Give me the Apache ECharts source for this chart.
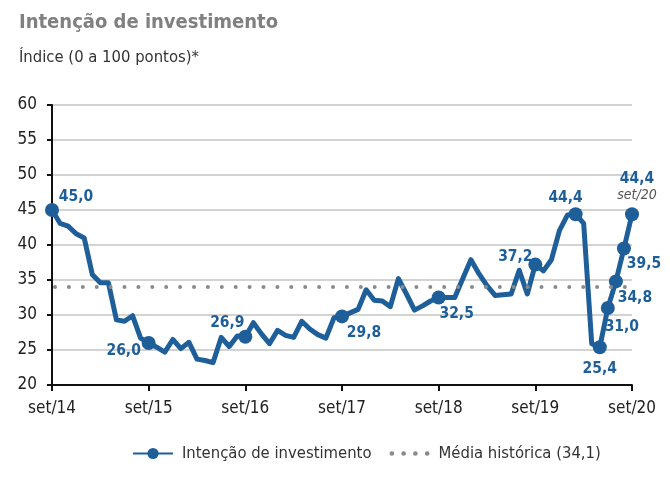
<!DOCTYPE html>
<html>
<head>
<meta charset="utf-8">
<script src="https://cdn.jsdelivr.net/npm/echarts@6/dist/echarts.min.js"></script>
<style>
html,body{margin:0;padding:0;background:#fff;}
#chart{width:670px;height:478px;}
</style>
</head>
<body>
<div id="chart"></div>
<script>
// ---- data ----
const monthNames = ['jan','fev','mar','abr','mai','jun','jul','ago','set','out','nov','dez'];
const startYear = 2014, startMonth = 8; // set/14
const nMonths = 73; // set/14 .. set/20
const categories = [];
for (let i = 0; i < nMonths; i++) {
  const m = (startMonth + i) % 12;
  const y = startYear + Math.floor((startMonth + i) / 12);
  categories.push(monthNames[m] + '/' + String(y).slice(2));
}
const investimento = [
  45.0, 43.1, 42.7, 41.6, 41.0, 35.8, 34.6, 34.6, 29.3, 29.1, 29.9, 26.7, 26.0,
  25.4, 24.7, 26.5, 25.2, 26.1, 23.7, 23.5, 23.2, 26.8, 25.5, 27.0, 26.9,
  28.9, 27.3, 25.9, 27.8, 27.1, 26.8, 29.1, 28.0, 27.2, 26.7, 29.6, 29.8,
  30.3, 30.8, 33.6, 32.1, 32.0, 31.2, 35.2, 33.0, 30.7, 31.3, 32.0, 32.5,
  32.5, 32.5, 35.2, 37.9, 35.9, 34.2, 32.8, 32.9, 33.0, 36.4, 33.0, 37.2,
  36.3, 37.9, 42.1, 44.3, 44.4, 43.1, 25.9, 25.4, 31.0, 34.8, 39.5, 44.4
];
const mediaHistorica = 34.1;
const seriesNames = ['Intenção de investimento', 'Média histórica (34,1)'];
const markedIdx = [0, 12, 24, 36, 48, 60, 65, 68, 69, 70, 71, 72];
const yTicks = [20, 25, 30, 35, 40, 45, 50, 55, 60];

// ---- styling (label placement) ----
const FONT = '"DejaVu Sans Condensed", "DejaVu Sans", sans-serif';
const BLUE = '#1f5f99';
const GRAYDOT = '#8a8a8a';
const labelOffsets = {
  0: [24, -13], 12: [-25, 8], 24: [-18, -14], 36: [22, 17], 48: [18, 16],
  60: [-20, -8], 65: [-10, -16], 68: [0, 22], 69: [14, 19], 70: [19, 17],
  71: [20, 15], 72: [5, -27]
};
const fmt = v => v.toFixed(1).replace('.', ',');

const lineData = investimento.map((v, i) => {
  if (markedIdx.indexOf(i) < 0) return { value: v, symbol: 'none' };
  const last = i === nMonths - 1;
  return {
    value: v,
    symbol: 'circle',
    symbolSize: 14,
    label: {
      show: true,
      position: 'inside',
      offset: labelOffsets[i],
      align: 'center',
      verticalAlign: 'middle',
      formatter: last ? '{a|' + fmt(v) + '}\n{b|' + categories[i] + '}' : fmt(v),
      color: BLUE,
      fontFamily: FONT,
      fontWeight: 'bold',
      fontSize: 15.5,
      rich: {
        a: { color: BLUE, fontFamily: FONT, fontWeight: 'bold', fontSize: 15.5, lineHeight: 17, align: 'center' },
        b: { color: '#555', fontFamily: FONT, fontWeight: 'normal', fontStyle: 'italic', fontSize: 14, lineHeight: 17, align: 'center' }
      }
    }
  };
});

const dotsIcon = 'path://M1,2a2,2 0 1,0 4,0a2,2 0 1,0 -4,0z M11,2a2,2 0 1,0 4,0a2,2 0 1,0 -4,0z M21,2a2,2 0 1,0 4,0a2,2 0 1,0 -4,0z M31,2a2,2 0 1,0 4,0a2,2 0 1,0 -4,0z';

const chart = echarts.init(document.getElementById('chart'), null, { renderer: 'canvas' });
chart.setOption({
  animation: false,
  backgroundColor: '#fff',
  title: [
    { text: 'Intenção de investimento', left: 14, top: 8,
      textStyle: { fontFamily: FONT, fontWeight: 'bold', fontSize: 20, color: '#808080' } },
    { text: 'Índice (0 a 100 pontos)*', left: 14, top: 44,
      textStyle: { fontFamily: FONT, fontWeight: 'normal', fontSize: 16.5, color: '#333' } }
  ],
  grid: { left: 52, right: 38, top: 105, bottom: 93, containLabel: false },
  legend: {
    bottom: 11, left: 127,
    itemWidth: 40, itemHeight: 14, itemGap: 18,
    textStyle: { fontFamily: FONT, fontSize: 16.5, color: '#333', padding: [0, 0, 0, 4] },
    data: [
      { name: seriesNames[0] },
      { name: seriesNames[1], icon: dotsIcon, itemStyle: { color: GRAYDOT }, itemHeight: 5 }
    ]
  },
  xAxis: {
    type: 'category',
    data: categories,
    boundaryGap: false,
    axisLine: { lineStyle: { color: '#111', width: 2 } },
    axisTick: { interval: 11, length: 6, lineStyle: { color: '#111', width: 2 } },
    axisLabel: { interval: 11, margin: 15, fontFamily: FONT, fontSize: 17, color: '#222' },
    splitLine: { show: false }
  },
  yAxis: {
    type: 'value',
    min: yTicks[0], max: yTicks[yTicks.length - 1], interval: 5,
    axisLine: { show: true, lineStyle: { color: '#111', width: 2 } },
    axisTick: { show: true, length: 5, lineStyle: { color: '#111', width: 2 } },
    axisLabel: { margin: 15, fontFamily: FONT, fontSize: 17, color: '#222' },
    splitLine: { lineStyle: { color: '#c4c4c4', width: 1.5 } }
  },
  series: [
    {
      name: seriesNames[1],
      type: 'line',
      data: [],
      symbol: 'none',
      z: 1,
      lineStyle: { color: GRAYDOT, width: 4, type: [0, 10], cap: 'round' },
      itemStyle: { color: GRAYDOT },
      markLine: {
        silent: true,
        symbol: 'none',
        label: { show: false },
        lineStyle: { color: GRAYDOT, width: 4, type: [0, 13.9], cap: 'round', dashOffset: -3 },
        data: [{ yAxis: mediaHistorica }]
      }
    },
    {
      name: seriesNames[0],
      type: 'line',
      data: lineData,
      z: 3,
      symbol: 'circle',
      symbolSize: 14,
      showSymbol: true,
      showAllSymbol: true,
      lineStyle: { color: BLUE, width: 5, join: 'round' },
      itemStyle: { color: BLUE },
      emphasis: { disabled: true }
    }
  ]
});
</script>
</body>
</html>
